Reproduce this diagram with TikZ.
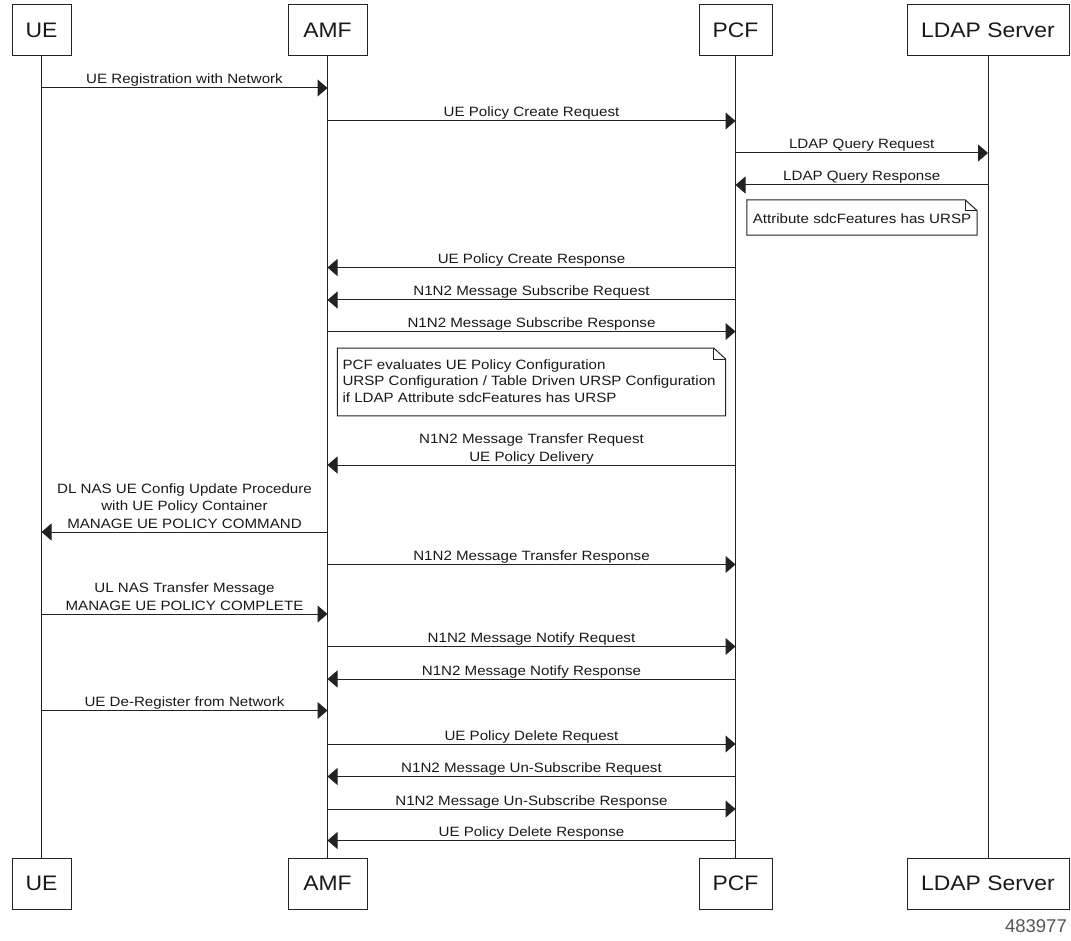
\documentclass[tikz,border=0pt]{standalone}
\usepackage{fontspec}
\setmainfont{Liberation Sans}
\newfontfamily\labfont[FakeStretch=1.12]{Liberation Sans}
\newfontfamily\headfont[FakeStretch=1.09]{Liberation Sans}
\usetikzlibrary{arrows.meta}
\definecolor{linegray}{HTML}{222222}
\definecolor{numgray}{HTML}{555555}
\tikzset{
  actor/.style={draw=linegray, line width=1pt, inner sep=0pt, minimum height=51pt,
    font=\headfont\fontsize{21}{24}\selectfont, text=black!90},
  life/.style={draw=linegray, line width=1pt},
  msg/.style={draw=linegray, line width=1pt, -{Triangle[length=10pt,width=17pt]}},
  lbl/.style={anchor=south, inner sep=0pt, text depth=0pt, yshift=3.5pt, align=center,
    font=\labfont\fontsize{13.5}{17.2}\selectfont, text=black!90},
  notetext/.style={inner sep=0pt, align=left, font=\labfont\fontsize{13.5}{16.8}\selectfont, text=black!90},
  noteline/.style={draw=linegray, line width=1pt, fill=white},
}
\newcommand\msgline[5]{%
  \coordinate (#4a) at (#1t |- 0,#3);
  \coordinate (#4b) at (#2t |- 0,#3);
  \draw[msg] (#4a) -- node[lbl]{#5} (#4b);
}
\begin{document}
\begin{tikzpicture}[x=1pt,y=-1pt]
\useasboundingbox (0,0) rectangle (1071,941);
% header boxes
\node[actor, minimum width=59pt] (uet) at (41.5,30.5) {UE};
\node[actor, minimum width=79pt] (amft) at (327.5,30.5) {AMF};
\node[actor, minimum width=73pt] (pcft) at (735.5,30.5) {PCF};
\node[actor, minimum width=162pt] (ldapt) at (988,30.5) {LDAP Server};
% footer boxes
\node[actor, minimum width=59pt] (ueb) at (41.5,883.5) {UE};
\node[actor, minimum width=79pt] (amfb) at (327.5,883.5) {AMF};
\node[actor, minimum width=73pt] (pcfb) at (735.5,883.5) {PCF};
\node[actor, minimum width=162pt] (ldapb) at (988,883.5) {LDAP Server};
% lifelines
\draw[life] (uet) -- (ueb);
\draw[life] (amft) -- (amfb);
\draw[life] (pcft) -- (pcfb);
\draw[life] (ldapt) -- (ldapb);
% messages
\msgline{ue}{amf}{88}{m1}{UE Registration with Network}
\msgline{amf}{pcf}{121}{m2}{UE Policy Create Request}
\msgline{pcf}{ldap}{153}{m3}{LDAP Query Request}
\msgline{ldap}{pcf}{185}{m4}{LDAP Query Response}
% note 1
\node[notetext, minimum width=230pt, minimum height=35pt] (n1) at (862,217.5) {};
\draw[noteline] (n1.north west) -- ([xshift=-12pt]n1.north east) -- ([yshift=-11pt]n1.north east) -- (n1.south east) -- (n1.south west) -- cycle;
\draw[noteline, fill=none] ([xshift=-12pt]n1.north east) -- ([xshift=-12pt,yshift=-11pt]n1.north east) -- ([yshift=-11pt]n1.north east);
\node[notetext] (n1t) at ([yshift=-1pt]n1.center) {Attribute sdcFeatures has URSP};
\msgline{pcf}{amf}{267.5}{m5}{UE Policy Create Response}
\msgline{pcf}{amf}{300}{m6}{N1N2 Message Subscribe Request}
\msgline{amf}{pcf}{331.5}{m7}{N1N2 Message Subscribe Response}
% note 2
\node[minimum width=388pt, minimum height=67.5pt, inner sep=0pt] (n2) at (531.5,382) {};
\draw[noteline] (n2.north west) -- ([xshift=-12pt]n2.north east) -- ([yshift=-11pt]n2.north east) -- (n2.south east) -- (n2.south west) -- cycle;
\draw[noteline, fill=none] ([xshift=-12pt]n2.north east) -- ([xshift=-12pt,yshift=-11pt]n2.north east) -- ([yshift=-11pt]n2.north east);
\node[notetext, anchor=west] (n2t) at ([xshift=5pt,yshift=1pt]n2.west) {PCF evaluates UE Policy Configuration\\URSP Configuration / Table Driven URSP Configuration\\if LDAP Attribute sdcFeatures has URSP};
\msgline{pcf}{amf}{465}{m8}{N1N2 Message Transfer Request\\UE Policy Delivery}
\msgline{amf}{ue}{532}{m9}{DL NAS UE Config Update Procedure\\with UE Policy Container\\MANAGE UE POLICY COMMAND}
\msgline{amf}{pcf}{564.5}{m10}{N1N2 Message Transfer Response}
\msgline{ue}{amf}{614}{m11}{UL NAS Transfer Message\\MANAGE UE POLICY COMPLETE}
\msgline{amf}{pcf}{646.5}{m12}{N1N2 Message Notify Request}
\msgline{pcf}{amf}{679}{m13}{N1N2 Message Notify Response}
\msgline{ue}{amf}{710.5}{m14}{UE De-Register from Network}
\msgline{amf}{pcf}{744}{m15}{UE Policy Delete Request}
\msgline{pcf}{amf}{776.5}{m16}{N1N2 Message Un-Subscribe Request}
\msgline{amf}{pcf}{809}{m17}{N1N2 Message Un-Subscribe Response}
\msgline{pcf}{amf}{840.5}{m18}{UE Policy Delete Response}
% figure number
\node[anchor=base east, inner sep=0pt, font=\fontsize{18.5}{20}\selectfont, text=numgray] (fig) at (1067,932) {483977};
\end{tikzpicture}
\end{document}
